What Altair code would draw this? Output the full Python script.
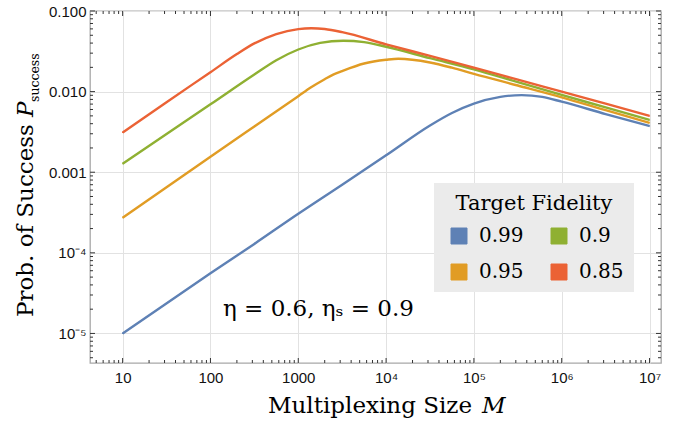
import math
import altair as alt
import pandas as pd

# ---------------- data ----------------
# legend entries are laid out column by column: (0.99, 0.95) | (0.9, 0.85)
fidelity = ["0.99", "0.95", "0.9", "0.85"]
colors = ["#5e81b5", "#e19c24", "#8fb032", "#eb6235"]

m_099 = [10, 100, 316, 1000, 3162, 1e4, 31623, 56234, 1e5, 200000, 350000, 600000, 1e6, 3.16e6, 1e7]
p_099 = [1.0e-5, 5.57e-5, 1.29e-4, 3.05e-4, 7.0e-4, 1.62e-3, 3.8e-3, 5.43e-3, 7.1e-3, 8.6e-3, 9.05e-3, 8.6e-3, 7.5e-3, 5.27e-3, 3.74e-3]

m_095 = [10, 100, 316, 1000, 1400, 2000, 2500, 3162, 5623, 1e4, 13800, 31623, 56234, 1e5, 316228, 1e6, 3.16e6, 1e7]
p_095 = [2.72e-4, 1.56e-3, 3.7e-3, 8.77e-3, 0.01132, 0.01426, 0.01626, 0.0180, 0.0223, 0.0248, 0.0256, 0.0230, 0.0198, 0.0166, 0.0119, 0.0085, 0.0059, 0.0041]

m_090 = [10, 100, 316, 562, 1000, 1778, 3250, 5623, 1e4, 31623, 1e5, 316228, 1e6, 3.16e6, 1e7]
p_090 = [1.27e-3, 6.95e-3, 0.0163, 0.0245, 0.0333, 0.0402, 0.0428, 0.0411, 0.0360, 0.0260, 0.0189, 0.0131, 0.0091, 0.00637, 0.00445]

m_085 = [10, 31.6, 100, 200, 316, 562, 1000, 1410, 2000, 3162, 1e4, 31623, 1e5, 316228, 1e6, 3.16e6, 1e7]
p_085 = [3.1e-3, 7.4e-3, 0.0174, 0.0292, 0.0396, 0.0518, 0.0596, 0.0610, 0.0597, 0.0546, 0.0386, 0.0277, 0.0198, 0.0141, 0.0100, 0.0071, 0.0050]

x_major = [10, 100, 1000, 1e4, 1e5, 1e6, 1e7]
x_labels = ["10", "100", "1000", "10⁴", "10⁵", "10⁶", "10⁷"]
y_major = [1e-5, 1e-4, 1e-3, 1e-2, 1e-1]
y_labels = ["10⁻⁵", "10⁻⁴", "0.001", "0.010", "0.100"]

x_domain = [4.25, 1.35e7]
y_domain = [4.3e-6, 0.1]

x_minor = [k * 10 ** e for e in range(0, 7) for k in range(2, 10) if x_domain[0] < k * 10 ** e < x_domain[1]]
y_minor = [k * 10.0 ** e for e in range(-6, -1) for k in range(2, 10) if y_domain[0] < k * 10.0 ** e < y_domain[1]]

rows = []
for lab, ms, ps in [("0.99", m_099, p_099), ("0.95", m_095, p_095),
                    ("0.9", m_090, p_090), ("0.85", m_085, p_085)]:
    for m, p in zip(ms, ps):
        rows.append({"M": m, "P": p, "F": lab})
df = pd.DataFrame(rows)

# ---------------- layout ----------------
W, H = 571, 352
SERIF = "DejaVu Serif"
SANS = "Liberation Sans"

xscale = alt.Scale(type="log", domain=x_domain, nice=False)
yscale = alt.Scale(type="log", domain=y_domain, nice=False)
cscale = alt.Scale(domain=fidelity, range=colors)


def label_expr(values, labels):
    parts = []
    for v, lab in zip(values, labels):
        parts.append("round(log(datum.value)/LN10) == %d ? '%s' : " % (round(math.log10(v)), lab))
    return "".join(parts) + "''"


xaxis = alt.Axis(values=x_major, labelExpr=label_expr(x_major, x_labels), title=None, grid=True,
                 gridColor="#e2e2e2", gridWidth=1, ticks=False, domain=False,
                 labelFont=SANS, labelFontSize=15, labelColor="#111",
                 labelPadding=7, labelFlush=False, labelOverlap=False)
yaxis = alt.Axis(values=y_major, labelExpr=label_expr(y_major, y_labels), title=None, grid=True,
                 gridColor="#e2e2e2", gridWidth=1, ticks=False, domain=False,
                 labelFont=SANS, labelFontSize=15, labelColor="#111",
                 labelPadding=4, labelFlush=False, labelOverlap=False)

base = alt.Chart(df)

legend_def = alt.Legend(
    title="Target Fidelity", orient="none", legendX=344, legendY=172,
    columns=2, fillColor="#ebebeb", padding=10,
    titleFont=SERIF, titleFontSize=21, titleFontWeight="normal", titleColor="black",
    titleAnchor="middle", titlePadding=12,
    labelFont=SERIF, labelFontSize=20, labelColor="black", labelOffset=10,
    symbolType="square", symbolSize=256, symbolStrokeColor="#44557d",
    symbolStrokeWidth=1, symbolOffset=5, columnPadding=20, rowPadding=16)

# tiny filled squares (hidden under the curves) that carry the fill legend
legend_layer = base.mark_square(size=1, opacity=1).encode(
    x=alt.X("M:Q", scale=xscale, axis=xaxis),
    y=alt.Y("P:Q", scale=yscale, axis=yaxis),
    fill=alt.Fill("F:N", scale=cscale, legend=legend_def),
)

lines = base.mark_line(strokeWidth=2.4, interpolate="monotone").encode(
    x=alt.X("M:Q", scale=xscale, axis=xaxis),
    y=alt.Y("P:Q", scale=yscale, axis=yaxis),
    color=alt.Color("F:N", scale=cscale, legend=None),
    detail="F:N",
)


def xticks(vals, length, bottom):
    d = pd.DataFrame({"M": vals})
    y0 = H if bottom else 0
    y1 = H - length if bottom else length
    return alt.Chart(d).mark_rule(color="#333", strokeWidth=1).encode(
        x=alt.X("M:Q", scale=xscale, axis=xaxis), y=alt.value(y0), y2=alt.value(y1))


def yticks(vals, length, left):
    d = pd.DataFrame({"P": vals})
    x0 = 0 if left else W
    x1 = length if left else W - length
    return alt.Chart(d).mark_rule(color="#333", strokeWidth=1).encode(
        y=alt.Y("P:Q", scale=yscale, axis=yaxis), x=alt.value(x0), x2=alt.value(x1))


tick_layers = [
    xticks(x_major, 5, True), xticks(x_minor, 3, True),
    xticks(x_major, 5, False), xticks(x_minor, 3, False),
    yticks(y_major, 5, True), yticks(y_minor, 3, True),
    yticks(y_major, 5, False), yticks(y_minor, 3, False),
]


def txt(s, x, y, size, style="normal", angle=0, align="left"):
    return alt.Chart(pd.DataFrame({"t": [s]})).mark_text(
        font=SERIF, fontSize=size, fontStyle=style, angle=angle, align=align,
        baseline="alphabetic", color="black").encode(
        x=alt.value(x), y=alt.value(y), text="t:N")


texts = [
    txt("Multiplexing Size", 178, 402, 23),
    txt("M", 392, 402, 23, style="italic"),
    txt("Prob. of Success", -57, 306, 23, angle=270),
    txt("P", -57, 106, 23, style="italic", angle=270),
    txt("success", -51, 91, 12.5, angle=270),
    txt("η = 0.6, ηₛ = 0.9", 133, 305, 23),
]

chart = alt.layer(legend_layer, lines, *tick_layers, *texts).properties(
    width=W, height=H,
    autosize=alt.AutoSizeParams(type="none"),
    padding={"left": 90, "top": 11, "right": 27, "bottom": 61},
    background="white",
).configure_view(stroke="#a8a8a8", strokeWidth=1.3)

chart.save("out.html", embed_options={"renderer": "svg", "actions": False})
